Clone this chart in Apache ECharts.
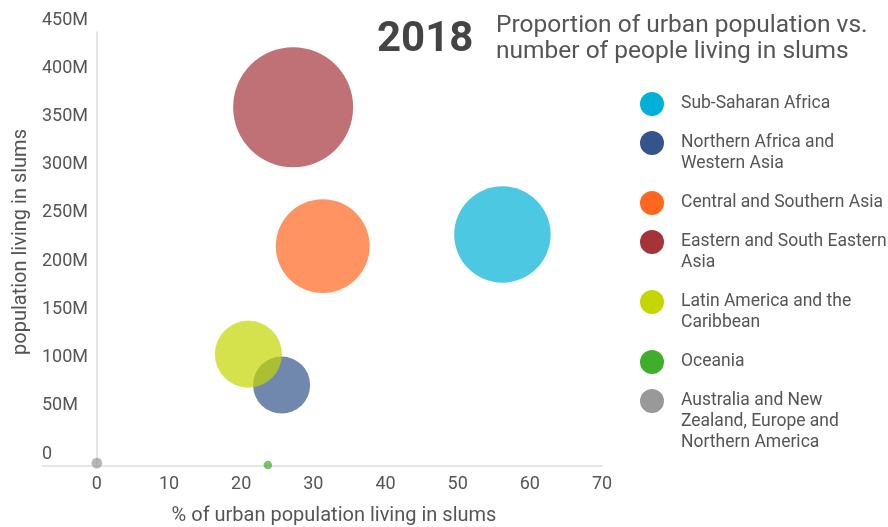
<!DOCTYPE html>
<html>
<head>
<meta charset="utf-8">
<script src="https://cdn.jsdelivr.net/npm/echarts@6/dist/echarts.min.js"></script>
<style>
html,body{margin:0;padding:0;background:#fff;}
#main{width:888px;height:527px;}
</style>
</head>
<body>
<div id="main"></div>
<script>
// data (2018)
var regions = [
	'Sub-Saharan Africa',
	'Northern Africa and Western Asia',
	'Central and Southern Asia',
	'Eastern and South Eastern Asia',
	'Latin America and the Caribbean',
	'Oceania',
	'Australia and New Zealand, Europe and Northern America'
];
var legendLabels = [
	'Sub-Saharan Africa',
	'Northern Africa and\nWestern Asia',
	'Central and Southern Asia',
	'Eastern and South Eastern\nAsia',
	'Latin America and the\nCaribbean',
	'Oceania',
	'Australia and New\nZealand, Europe and\nNorthern America'
];
var colors = ['#00B0D6', '#34558B', '#FF6620', '#A4343A', '#C4D600', '#3FAE2A', '#999999'];
var slumShare = [56.2, 25.6, 31.3, 27.2, 21.0, 23.7, 0];           // % of urban population living in slums
var slumPopulation = [240e6, 84e6, 228e6, 372e6, 116e6, 1e6, 3e6]; // population living in slums
var xTicks = [0, 10, 20, 30, 40, 50, 60, 70];

var font = 'Roboto';
var textColor = '#555';

function bubbleSize(d){
	// area follows the slum population
	return Math.max(8.5, 120 * Math.sqrt(d[1] / 372e6));
}

var series = [];
var legends = [];
var textTop = 93.5;
for (var i = 0; i < regions.length; i++) {
	series.push({
		name: regions[i],
		type: 'scatter',
		data: [[slumShare[i], slumPopulation[i]]],
		symbolSize: bubbleSize,
		itemStyle: {color: colors[i], opacity: 0.7},
		emphasis: {disabled: true}
	});
	var lines = legendLabels[i].split('\n').length;
	var iconY = textTop + 10.5;
	var half = lines === 1 ? 12 : (2 * lines - 1) * 10.5;
	legends.push({
		orient: 'vertical',
		left: 640,
		top: iconY - half,
		padding: 0,
		itemWidth: 48,
		itemHeight: 24,
		icon: 'circle',
		itemStyle: {opacity: 1},
		data: [regions[i]],
		formatter: (function(idx, n){
			return function(){ return new Array(n).join('\n') + legendLabels[idx]; };
		})(i, lines),
		textStyle: {fontFamily: font, fontSize: 17.5, color: textColor, lineHeight: 21}
	});
	textTop += lines * 21 + 18;
}

var chart = echarts.init(document.getElementById('main'));
var option = {
	animation: false,
	backgroundColor: '#fff',
	title: [
		{text: '2018', left: 377, top: 19, padding: 0,
			textStyle: {fontFamily: font, fontSize: 42, fontWeight: 'bold', color: '#444'}},
		{text: 'Proportion of urban population vs.\nnumber of people living in slums', left: 496, top: 13, padding: 0,
			textStyle: {fontFamily: font, fontSize: 24.5, fontWeight: 'normal', color: textColor, lineHeight: 26}}
	],
	legend: legends,
	grid: {left: 42, right: 286, top: 32, bottom: 61, outerBoundsMode: 'none', containLabel: false},
	xAxis: {
		type: 'value',
		min: -7.6,
		max: 70,
		name: '% of urban population living in slums',
		nameLocation: 'middle',
		nameGap: 40,
		nameTextStyle: {fontFamily: font, fontSize: 20, color: textColor, padding: [0, 0, 0, 24]},
		axisLine: {lineStyle: {color: '#ddd', width: 1.5}},
		axisTick: {show: false},
		splitLine: {show: false},
		axisLabel: {customValues: xTicks, margin: 9, fontFamily: font, fontSize: 18, color: textColor}
	},
	yAxis: {
		type: 'value',
		min: 0,
		max: 450e6,
		interval: 50e6,
		name: 'population living in slums',
		nameLocation: 'middle',
		nameGap: 11,
		nameTextStyle: {fontFamily: font, fontSize: 20, color: textColor, padding: [0, 0, 0, 14]},
		axisLine: {show: true, onZero: true, lineStyle: {color: '#ddd', width: 1.5}},
		axisTick: {show: false},
		splitLine: {show: false},
		axisLabel: {
			align: 'left',
			verticalAlign: 'bottom',
			padding: [0, 0, 3, 0],
			margin: 0,
			fontFamily: font, fontSize: 18, color: textColor,
			formatter: function(v){ return v === 0 ? '0' : (v / 1e6) + 'M'; }
		}
	},
	series: series
};
chart.setOption(option);
</script>
</body>
</html>
